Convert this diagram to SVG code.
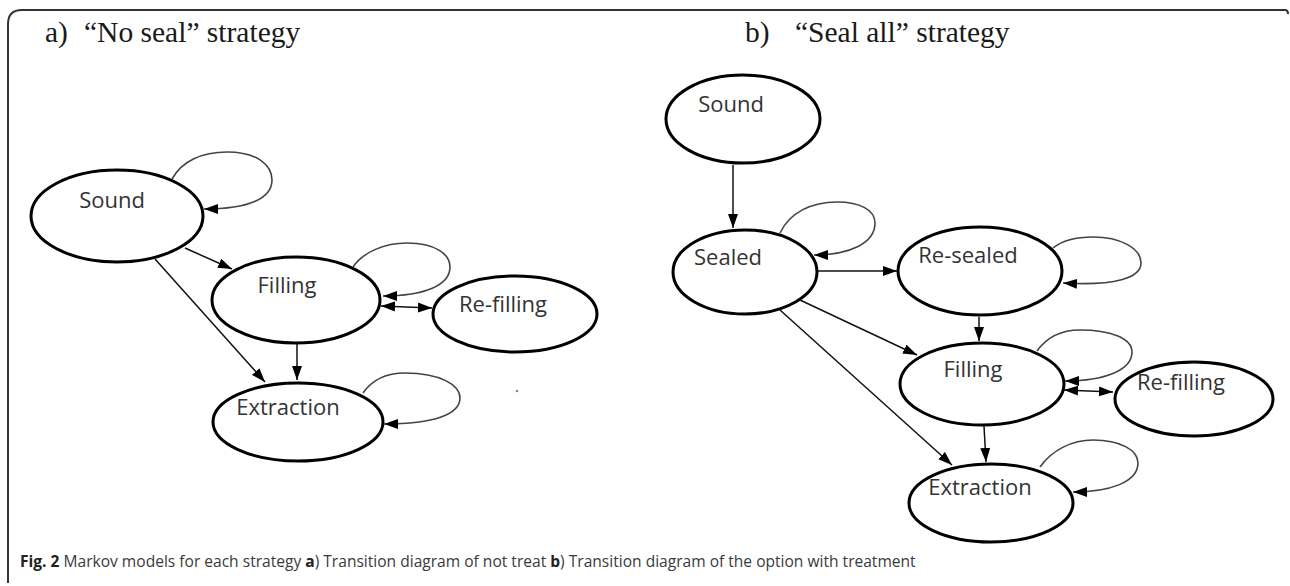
<svg xmlns="http://www.w3.org/2000/svg" width="1290" height="586" viewBox="0 0 1290 586">
  <style>
    .frame { fill: none; stroke: #333; stroke-width: 2; }
    .title { font-family: "Liberation Serif", "Times New Roman", serif; font-size: 29.5px; fill: #1a1a1a; }
    .state ellipse { fill: #fff; stroke: #000; stroke-width: 3; }
    .state text { font-family: "Open Sans", "Noto Sans", sans-serif; font-size: 22px; fill: #333; text-anchor: middle; }
    .edge { fill: none; stroke: #111; stroke-width: 1.5; marker-end: url(#arrow); }
    .loop { fill: none; stroke: #444; stroke-width: 1.6; marker-end: url(#arrow); }
    .both { marker-start: url(#arrow); }
    .caption { font-family: "Open Sans", "Noto Sans", sans-serif; font-size: 16.5px; fill: #3a3a3a; }
    .caption .b { font-weight: bold; fill: #222; }
  </style>
  <defs>
    <marker id="arrow" markerUnits="userSpaceOnUse" markerWidth="15" markerHeight="11" refX="14" refY="5" orient="auto-start-reverse">
      <path d="M0,0 L14,5 L0,10 z" fill="#000"/>
    </marker>
  </defs>

  <rect width="1290" height="586" fill="#fff"/>
  <path class="frame" d="M8,583 L8,24 Q8,10 22,10 L1285,10 Q1288,10 1288,14"/>

  <text class="title" x="45" y="42">a)<tspan x="84">“No seal” strategy</tspan></text>
  <text class="title" x="745" y="42">b)<tspan x="795">“Seal all” strategy</tspan></text>

  <!-- a) no seal -->
  <g id="a-sound" class="state"><ellipse cx="117" cy="216" rx="86" ry="46"/><text x="112" y="208">Sound</text></g>
  <g id="a-filling" class="state"><ellipse cx="296" cy="300" rx="84" ry="43"/><text x="287" y="293">Filling</text></g>
  <g id="a-refilling" class="state"><ellipse cx="515" cy="314" rx="82" ry="38"/><text x="503" y="312">Re-filling</text></g>
  <g id="a-extraction" class="state"><ellipse cx="298" cy="422" rx="85" ry="39"/><text x="288" y="415">Extraction</text></g>

  <!-- b) seal all -->
  <g id="b-sound" class="state"><ellipse cx="743" cy="119" rx="77" ry="44"/><text x="731" y="112">Sound</text></g>
  <g id="b-sealed" class="state"><ellipse cx="745" cy="272" rx="72" ry="42"/><text x="728" y="265">Sealed</text></g>
  <g id="b-resealed" class="state"><ellipse cx="980" cy="271" rx="82" ry="44"/><text x="968" y="263">Re-sealed</text></g>
  <g id="b-filling" class="state"><ellipse cx="982" cy="384" rx="82" ry="41"/><text x="973" y="377">Filling</text></g>
  <g id="b-refilling" class="state"><ellipse cx="1194" cy="399" rx="79" ry="37"/><text x="1181" y="390">Re-filling</text></g>
  <g id="b-extraction" class="state"><ellipse cx="991" cy="503" rx="82" ry="39"/><text x="980" y="495">Extraction</text></g>

  <g id="connectors">
    <!-- a) -->
    <path class="loop" d="M172,179 C182,161 202,152 227,152 C257,152 272,165 272,180 C272,198 250,209 204,209"/>
    <path class="edge" d="M185,248 L232,269"/>
    <path class="edge" d="M155,259 L265,382"/>
    <path class="loop" d="M353,267 C363,252 385,243 407,243 C435,243 450,254 450,267 C450,285 425,296 383,296"/>
    <path class="edge both" d="M381,306 L432,308"/>
    <path class="edge" d="M297,343 L297,380"/>
    <path class="loop" d="M363,393 C372,380 385,373 405,373 C440,373 460,385 460,398 C460,414 435,424 384,424"/>

    <!-- b) -->
    <path class="edge" d="M733,165 L733,228"/>
    <path class="loop" d="M780,233 C790,212 812,202 837,202 C860,202 875,210 875,223 C875,243 850,255 814,255"/>
    <path class="edge" d="M818,271 L897,271"/>
    <path class="loop" d="M1053,248 C1063,240 1078,237 1093,237 C1120,237 1141,248 1141,263 C1141,278 1115,286 1063,283"/>
    <path class="edge" d="M979,317 L979,341"/>
    <path class="edge" d="M800,300 L917,355"/>
    <path class="edge" d="M780,310 L952,465"/>
    <path class="loop" d="M1037,351 C1047,337 1062,330 1080,330 C1110,330 1132,338 1132,352 C1132,370 1105,381 1065,381"/>
    <path class="edge both" d="M1064,390 L1113,392"/>
    <path class="edge" d="M984,426 L986,462"/>
    <path class="loop" d="M1040,467 C1052,450 1072,440 1093,440 C1120,440 1138,450 1138,463 C1138,482 1110,492 1073,492"/>
  </g>

  <circle cx="517" cy="391" r="1.3" fill="#888"/>

  <!-- caption set slightly narrow -->
  <g transform="translate(20,0) scale(0.944,1) translate(-20,0)">
    <text id="caption" class="caption" x="20" y="567"><tspan class="b">Fig. 2</tspan> Markov models for each strategy <tspan class="b">a</tspan>) Transition diagram of not treat <tspan class="b">b</tspan>) Transition diagram of the option with treatment</text>
  </g>
</svg>
